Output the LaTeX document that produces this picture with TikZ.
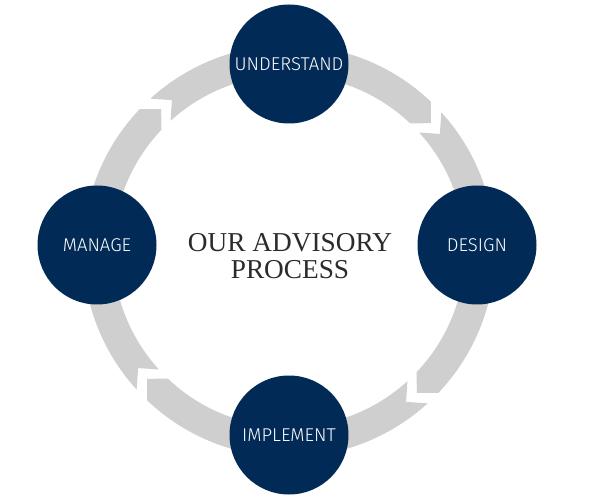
\documentclass[tikz,border=0pt]{standalone}
\usepackage{fontspec}
\setmainfont{Liberation Serif}
\newfontfamily\labelfont{Fira Sans Light}
\definecolor{navy}{HTML}{022A57}
\definecolor{ringgray}{HTML}{CFCFCF}
\definecolor{titlegray}{HTML}{2B2B2B}
\begin{document}
\begin{tikzpicture}[x=1pt,y=1pt,
  stagecircle/.style={circle,fill=navy,minimum size=119pt,inner sep=0pt,text=white,
    font=\labelfont\fontsize{18.5}{18.5}\selectfont},
  titletext/.style={anchor=base,text=titlegray,font=\fontsize{27.3}{27.3}\selectfont},
  ringseg/.style={fill=ringgray,draw=none}]
\useasboundingbox (0,0) rectangle (590,-500);
\fill[white] (0,0) rectangle (590,-500);
% ring segments (clockwise chevron arcs)
\begin{scope}[shift={(289,-251)}]
  \def\Ro{206pt}\def\Ri{176pt}\def\Rm{191pt}\def\dd{4.5}\def\gg{4.2}
  \foreach \T in {132,42,-48,-138}{
    \pgfmathsetmacro{\H}{\T-90}
    \pgfmathsetmacro{\A}{\T+\dd-\gg}
    \pgfmathsetmacro{\B}{\H+\dd}
    \pgfmathsetmacro{\N}{\T-\gg}
    \fill[ringseg] (\A:\Ro) arc[start angle=\A,end angle=\B,radius=\Ro]
      -- (\H:\Rm) -- (\B:\Ri)
      arc[start angle=\B,end angle=\A,radius=\Ri]
      -- (\N:\Rm) -- cycle;
  }
\end{scope}
\node[stagecircle] (understand) at (289,-64) {UNDERSTAND};
\node[stagecircle] (design) at (477,-245) {DESIGN};
\node[stagecircle] (implement) at (289,-435) {IMPLEMENT};
\node[stagecircle] (manage) at (97,-245) {MANAGE};
\node[titletext] (title1) at (290,-252) {OUR ADVISORY};
\node[titletext] (title2) at (290,-279) {PROCESS};
\end{tikzpicture}
\end{document}
